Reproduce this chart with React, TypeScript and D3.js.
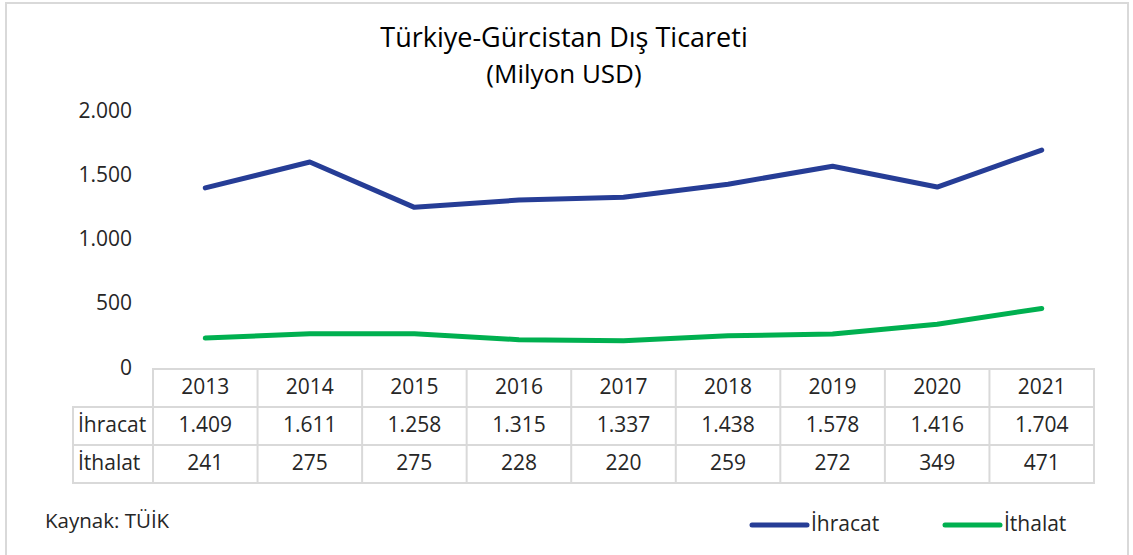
import React from "react";
import * as d3 from "d3";

const years = ["2013", "2014", "2015", "2016", "2017", "2018", "2019", "2020", "2021"];
const ihracat = [1409, 1611, 1258, 1315, 1337, 1438, 1578, 1416, 1704];
const ithalat = [241, 275, 275, 228, 220, 259, 272, 349, 471];
const yTicks = [0, 500, 1000, 1500, 2000];
const seriesNames = ["İhracat", "İthalat"];
const seriesColors = ["#263d96", "#00b050"];

const FONT = "'Open Sans', 'Noto Sans', sans-serif";
const W = 1133;
const H = 555;

// Turkish style number: 1.409
const fmt = (v: number) => d3.format(",")(v).replace(/,/g, ".");

export default function App() {
  const x = d3.scaleBand<string>().domain(years).range([153, 1094]);
  const y = d3.scaleLinear().domain([0, 2000]).range([369, 112]);
  const cx = (d: string) => (x(d) as number) + x.bandwidth() / 2;

  const line = d3
    .line<number>()
    .x((_, i) => cx(years[i]))
    .y((v) => y(v));

  const series = [ihracat, ithalat];
  const rowTop = 369;
  const rowH = 38;
  const labelLeft = 73;
  const grid = "#d9d9d9";
  const txt = "#262626";

  return (
    <svg
      width={W}
      height={H}
      style={{ position: "absolute", left: 0, top: 0, fontFamily: FONT }}
    >
      <rect x={0} y={0} width={W} height={H} fill="#fff" />
      <rect x={6} y={3} width={1122} height={H + 10} fill="none" stroke={grid} strokeWidth={2} />

      <text x={564} y={47} textAnchor="middle" fontSize={27} fill="#000">
        Türkiye-Gürcistan Dış Ticareti
      </text>
      <text x={564} y={83} textAnchor="middle" fontSize={26} fill="#000">
        (Milyon USD)
      </text>

      {yTicks.map((t) => (
        <text
          key={t}
          x={132}
          y={y(t)}
          textAnchor="end"
          dominantBaseline="middle"
          fontSize={21}
          fill={txt}
        >
          {fmt(t)}
        </text>
      ))}

      {series.map((s, i) => (
        <path
          key={i}
          d={line(s) || ""}
          fill="none"
          stroke={seriesColors[i]}
          strokeWidth={5}
          strokeLinecap="round"
          strokeLinejoin="round"
        />
      ))}

      {/* data table */}
      <g stroke={grid} strokeWidth={2} fill="none">
        <rect x={153} y={rowTop} width={x.range()[1] - 153} height={rowH * 3} />
        <rect x={labelLeft} y={rowTop + rowH} width={153 - labelLeft} height={rowH * 2} />
        {[1, 2].map((r) => (
          <line key={r} x1={labelLeft} x2={x.range()[1]} y1={rowTop + rowH * r} y2={rowTop + rowH * r} />
        ))}
        {years.slice(1).map((yr) => (
          <line key={yr} x1={x(yr)} x2={x(yr)} y1={rowTop} y2={rowTop + rowH * 3} />
        ))}
      </g>
      {years.map((yr) => (
        <text key={yr} x={cx(yr)} y={rowTop + rowH / 2} textAnchor="middle" dominantBaseline="middle" fontSize={21} fill={txt}>
          {yr}
        </text>
      ))}
      {series.map((s, i) => (
        <g key={i}>
          <text x={labelLeft + 5} y={rowTop + rowH * (i + 1.5)} dominantBaseline="middle" fontSize={21} fill={txt}>
            {seriesNames[i]}
          </text>
          {s.map((v, j) => (
            <text key={j} x={cx(years[j])} y={rowTop + rowH * (i + 1.5)} textAnchor="middle" dominantBaseline="middle" fontSize={21} fill={txt}>
              {fmt(v)}
            </text>
          ))}
        </g>
      ))}

      <text x={45} y={523} dominantBaseline="middle" fontSize={20.5} fill={txt}>
        Kaynak: TÜİK
      </text>

      {/* legend */}
      {seriesNames.map((n, i) => {
        const lx = 752 + i * 193;
        return (
          <g key={n}>
            <line x1={lx} x2={lx + 55} y1={525} y2={525} stroke={seriesColors[i]} strokeWidth={5} strokeLinecap="round" />
            <text x={lx + 59} y={525} dominantBaseline="middle" fontSize={21} fill={txt}>
              {n}
            </text>
          </g>
        );
      })}
    </svg>
  );
}
